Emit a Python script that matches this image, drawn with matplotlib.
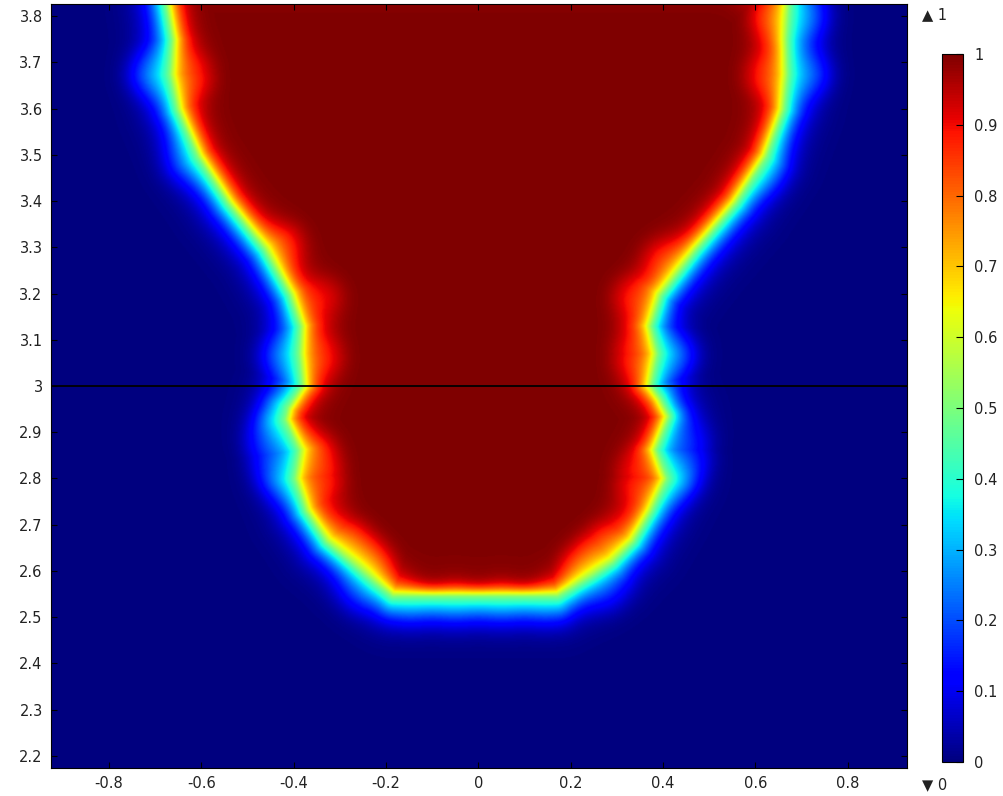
import numpy as np
import matplotlib
matplotlib.use("Agg")
import matplotlib.pyplot as plt
from matplotlib.path import Path
from matplotlib.ticker import FuncFormatter

# ---- data: interface (yellow) positions ----
left_y = [3.90, 3.826, 3.75, 3.675, 3.60, 3.50, 3.40, 3.30, 3.20, 3.13, 3.07, 3.00,
          2.95, 2.928, 2.862, 2.80, 2.733, 2.668, 2.624, 2.58, 2.553]
left_x = [-0.668, -0.668, -0.655, -0.66, -0.644, -0.60, -0.535, -0.456, -0.40, -0.377,
          -0.38, -0.373, -0.405, -0.41, -0.38, -0.389, -0.366, -0.323, -0.27, -0.218, -0.183]
right_y = [3.90, 3.826, 3.75, 3.675, 3.60, 3.50, 3.40, 3.30, 3.20, 3.13, 3.07, 3.00,
           2.97, 2.934, 2.862, 2.80, 2.733, 2.668, 2.624, 2.596, 2.566, 2.553]
right_x = [0.665, 0.665, 0.66, 0.662, 0.654, 0.617, 0.552, 0.466, 0.388, 0.366, 0.38,
           0.366, 0.387, 0.405, 0.377, 0.40, 0.368, 0.33, 0.286, 0.243, 0.193, 0.17]
# mesh artefacts: tips of the red halos (inside) and blue halos (outside)
in_x = [-0.594, -0.40, -0.31, -0.31, -0.33, -0.31, -0.27, -0.22,
        0.61, 0.596, 0.38, 0.31, 0.31, 0.315, 0.265, 0.22,
        -0.10, 0.0, 0.10]
in_y = [3.674, 3.32, 3.20, 3.065, 2.862, 2.80, 2.683, 2.63,
        3.80, 3.675, 3.29, 3.20, 3.065, 2.80, 2.683, 2.63,
        2.58, 2.58, 2.58]
in_a = [0.8, 0.7, 0.9, 0.8, 0.5, 0.9, 0.7, 0.7,
        0.8, 0.8, 0.7, 0.9, 0.8, 0.9, 0.7, 0.7,
        -0.3, -0.3, -0.3]
out_x = [-0.723, -0.44, -0.44, -0.477, -0.44, -0.65,
         0.725, 0.733, 0.44, 0.48, 0.44, 0.63,
         -0.27, -0.15, -0.05, 0.05, 0.15, 0.29]
out_y = [3.674, 3.064, 2.928, 2.862, 2.80, 3.48,
         3.80, 3.675, 3.065, 2.862, 2.80, 3.46,
         2.54, 2.52, 2.52, 2.52, 2.52, 2.538]
out_a = [0.8, 0.7, 0.6, 0.7, 0.6, 0.4,
         0.8, 0.8, 0.7, 0.7, 0.6, 0.4,
         0.4, 0.35, 0.35, 0.35, 0.35, 0.4]

cbar_ticks = [0, 0.1, 0.2, 0.3, 0.4, 0.5, 0.6, 0.7, 0.8, 0.9, 1]
x_ticks = [-0.8, -0.6, -0.4, -0.2, 0, 0.2, 0.4, 0.6, 0.8]
y_ticks = [2.2, 2.3, 2.4, 2.5, 2.6, 2.7, 2.8, 2.9, 3.0, 3.1, 3.2, 3.3, 3.4, 3.5, 3.6, 3.7, 3.8]
xlim = (-0.925, 0.928)
ylim = (2.174, 3.826)

# ---- build field ----
poly = np.array(list(zip(right_x, right_y)) + list(zip(left_x[::-1], left_y[::-1])))
xs = np.linspace(xlim[0], xlim[1], 900)
ys = np.linspace(ylim[0], ylim[1], 800)
X, Y = np.meshgrid(xs, ys)
P = np.column_stack([X.ravel(), Y.ravel()])
dmin = np.full(P.shape[0], np.inf)
closed = np.vstack([poly, poly[:1]])
for (ax_, ay_), (bx_, by_) in zip(closed[:-1], closed[1:]):
    vx, vy = bx_ - ax_, by_ - ay_
    L2 = vx * vx + vy * vy
    t = np.clip(((P[:, 0] - ax_) * vx + (P[:, 1] - ay_) * vy) / L2, 0, 1)
    dx = P[:, 0] - (ax_ + t * vx)
    dy = P[:, 1] - (ay_ + t * vy)
    dmin = np.minimum(dmin, np.hypot(dx, dy))
inside = Path(poly).contains_points(P)
d = np.where(inside, dmin, -dmin).reshape(X.shape) + 0.009

w_in = np.ones_like(X)
for sx, sy, a in zip(in_x, in_y, in_a):
    w_in += a * np.exp(-((X - sx) ** 2 + (Y - sy) ** 2) / 0.055 ** 2)
w_out = np.ones_like(X)
for sx, sy, a in zip(out_x, out_y, out_a):
    w_out += a * np.exp(-((X - sx) ** 2 + (Y - sy) ** 2) / 0.055 ** 2)
w_in = np.clip(w_in, 0.45, None)
s = np.where(d > 0, 0.018 * w_in, 0.024 * w_out)
Z = 1.0 / (1.0 + np.exp(-d / s))

# ---- figure ----
fig = plt.figure(figsize=(10.04, 7.96), dpi=100)
ax = fig.add_axes([51 / 1004, 28 / 796, 856 / 1004, 764 / 796])
im = ax.imshow(Z, origin="lower", extent=[xlim[0], xlim[1], ylim[0], ylim[1]],
               cmap="jet", vmin=0, vmax=1, aspect="auto", interpolation="bilinear")
ax.axhline(3.0, color="black", lw=1.3)
ax.set_xlim(*xlim)
ax.set_ylim(*ylim)
ax.set_xticks(x_ticks)
ax.set_yticks(y_ticks)
fmt = FuncFormatter(lambda v, p: ("%g" % round(v, 3)).replace("\u2212", "-"))
ax.xaxis.set_major_formatter(fmt)
ax.yaxis.set_major_formatter(fmt)
ax.tick_params(direction="in", top=True, right=True, length=4, width=0.8,
               labelsize=10.5, colors="black", labelcolor="#222222", pad=6)
for sp in ax.spines.values():
    sp.set_linewidth(0.8)

cax = fig.add_axes([942 / 1004, 34 / 796, 21 / 1004, 708 / 796])
cb = fig.colorbar(im, cax=cax, ticks=cbar_ticks)
cb.ax.yaxis.set_major_formatter(fmt)
cb.ax.tick_params(direction="in", length=5, width=0.8, labelsize=10.5,
                  labelcolor="#222222", pad=8)
cb.outline.set_linewidth(0.8)

fig.text(922 / 1004, 1 - 15 / 796, "\u25B2 1", fontsize=10.5, color="#222222",
         va="center", ha="left")
fig.text(922 / 1004, 1 - 785 / 796, "\u25BC 0", fontsize=10.5, color="#222222",
         va="center", ha="left")

fig.savefig("out.png", dpi=100)
